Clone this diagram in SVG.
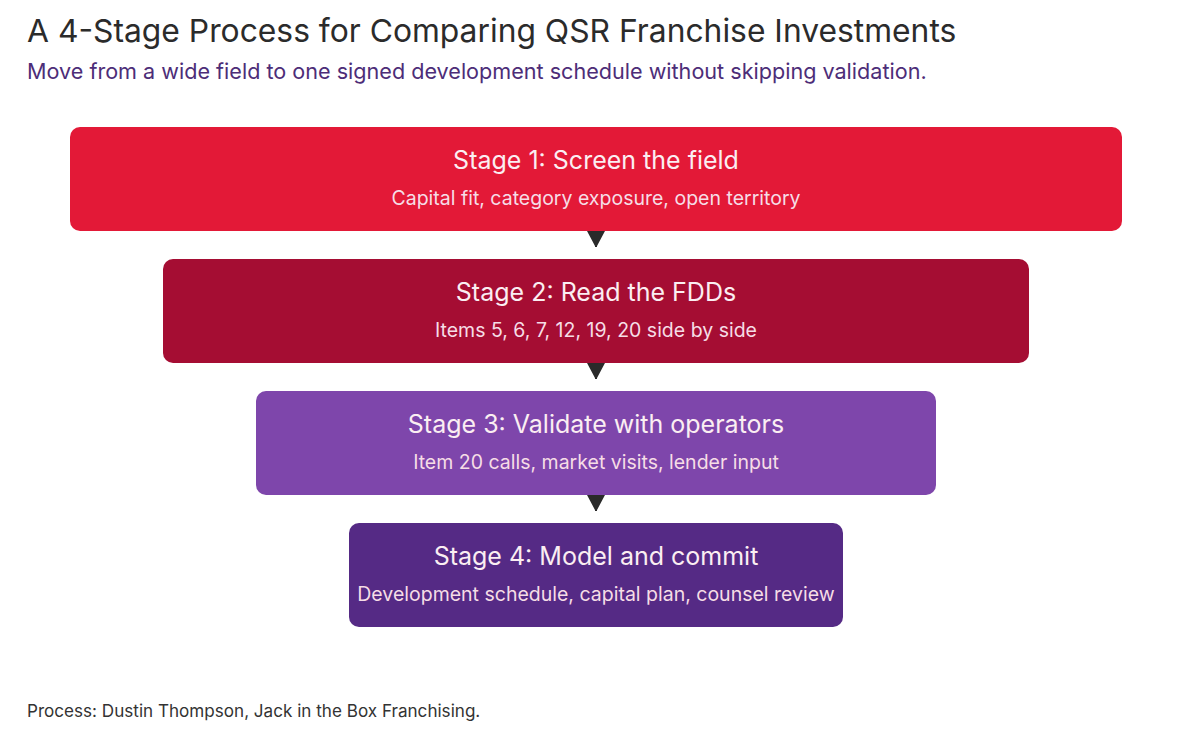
<svg xmlns="http://www.w3.org/2000/svg" width="1192" height="736" viewBox="0 0 1192 736">
<style>
.t{font-family:Inter,"Noto Sans",sans-serif}
.h{font-size:25px;fill:#fbeef2;text-anchor:middle}
.s{font-size:19.5px;fill:#f6dde6;text-anchor:middle}
.c{stroke:#2a2a2a;stroke-width:2;fill:none}
</style>
<defs>
<marker id="ah" markerWidth="17" markerHeight="18" refX="16" refY="9" orient="auto" markerUnits="userSpaceOnUse" viewBox="0 0 17 18">
<path d="M0,0 L15,8 Q16.5,9 15,10 L0,18 Z" fill="#2a2a2a"/>
</marker>
</defs>
<rect width="1192" height="736" fill="#ffffff"/>
<text class="t" x="27" y="42" font-size="31.8" fill="#2b2b2b">A 4-Stage Process for Comparing QSR Franchise Investments</text>
<text class="t" x="27" y="79" font-size="21.6" fill="#4d2d78">Move from a wide field to one signed development schedule without skipping validation.</text>
<g id="connectors">
<path d="M596,231 V247" class="c" marker-end="url(#ah)"/>
<path d="M596,363 V379" class="c" marker-end="url(#ah)"/>
<path d="M596,495 V511" class="c" marker-end="url(#ah)"/>
</g>
<g id="stage1">
<rect x="70" y="127" width="1052" height="104" rx="10" fill="#e31937"/>
<text class="t h" x="596" y="169">Stage 1: Screen the field</text>
<text class="t s" x="596" y="205">Capital fit, category exposure, open territory</text>
</g>
<g id="stage2">
<rect x="163" y="259" width="866" height="104" rx="10" fill="#a50d33"/>
<text class="t h" x="596" y="301">Stage 2: Read the FDDs</text>
<text class="t s" x="596" y="337">Items 5, 6, 7, 12, 19, 20 side by side</text>
</g>
<g id="stage3">
<rect x="256" y="391" width="680" height="104" rx="10" fill="#7e46ab"/>
<text class="t h" x="596" y="433">Stage 3: Validate with operators</text>
<text class="t s" x="596" y="469">Item 20 calls, market visits, lender input</text>
</g>
<g id="stage4">
<rect x="349" y="523" width="494" height="104" rx="10" fill="#552a85"/>
<text class="t h" x="596" y="565">Stage 4: Model and commit</text>
<text class="t s" x="596" y="601">Development schedule, capital plan, counsel review</text>
</g>
<text class="t" x="27" y="717" font-size="17.1" fill="#333333">Process: Dustin Thompson, Jack in the Box Franchising.</text>
</svg>
